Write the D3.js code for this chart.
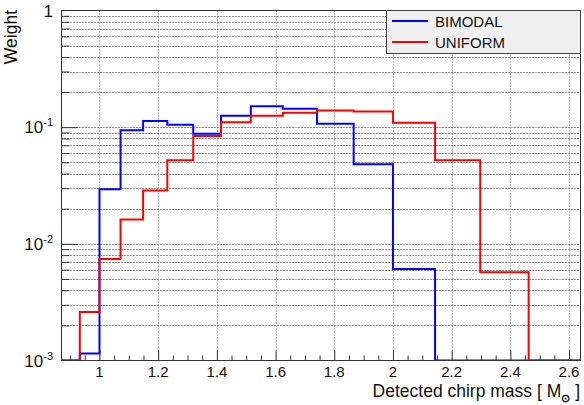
<!DOCTYPE html>
<html>
<head>
<meta charset="utf-8">
<script src="https://cdn.jsdelivr.net/npm/d3@7"></script>
<style>
  html, body { margin: 0; padding: 0; background: #fff; }
  svg { display: block; font-family: "Liberation Sans", Arial, Helvetica, sans-serif; }
</style>
</head>
<body>
<svg id="chart" width="584" height="405"></svg>
<script>
// ---- data ----
const binEdges = [0.8706, 0.9330, 1.0, 1.0718, 1.1487, 1.2311, 1.3195, 1.4142, 1.5157,
                  1.6245, 1.7411, 1.8661, 2.0, 2.1435, 2.2974, 2.4623, 2.6390];
const bimodal = [0, 0.00115, 0.0294, 0.094, 0.113, 0.105, 0.088, 0.125, 0.151,
                 0.144, 0.107, 0.048, 0.0061, 0, 0, 0];
const uniform = [0, 0.0026, 0.0074, 0.0162, 0.0287, 0.052, 0.084, 0.110, 0.125,
                 0.133, 0.139, 0.136, 0.109, 0.052, 0.0057, 0];
const seriesNames = ["BIMODAL", "UNIFORM"];
const seriesColors = ["#0000ff", "#ff0000"];
const xTicks = [1, 1.2, 1.4, 1.6, 1.8, 2, 2.2, 2.4, 2.6];
const xTickLabels = ["1", "1.2", "1.4", "1.6", "1.8", "2", "2.2", "2.4", "2.6"];
const yTicks = [0.001, 0.01, 0.1, 1];
const yTickBase = ["10", "10", "10", "1"];
const yTickExp = ["-3", "-2", "-1", ""];
const xTitle = "Detected chirp mass [ M";
const yTitle = "Weight";

// ---- layout ----
const L = 61.5, R = 580.5, T = 10.5, B = 360.5;
const svg = d3.select("#chart");

const x = d3.scaleLinear().domain([binEdges[0], binEdges[binEdges.length - 1]]).range([L, R]);
const y = d3.scaleLog().domain([1e-3, 1]).range([B, T]);

// minor log ticks
const yMinor = [];
[1e-3, 1e-2, 1e-1].forEach(d => { for (let k = 2; k <= 9; k++) yMinor.push(k * d); });
const xMinor = d3.range(0.9, 2.64, 0.05).map(v => +v.toFixed(2)).filter(v => xTicks.indexOf(v) < 0);

// grid
const grid = svg.append("g");
grid.selectAll("line.hg").data(yMinor.concat([0.01, 0.1])).join("line")
  .attr("x1", L).attr("x2", R)
  .attr("y1", d => Math.round(y(d)) + 0.5).attr("y2", d => Math.round(y(d)) + 0.5)
  .attr("stroke", "#222").attr("stroke-dasharray", "1,2").attr("stroke-width", 1);
grid.selectAll("line.vg").data(xTicks).join("line")
  .attr("y1", T).attr("y2", B)
  .attr("x1", d => Math.round(x(d)) + 0.5).attr("x2", d => Math.round(x(d)) + 0.5)
  .attr("stroke", "#777").attr("stroke-dasharray", "1,2").attr("stroke-width", 1);

// axes ticks via d3 axes
const xAxis = d3.axisBottom(x).tickValues(xTicks).tickSize(-10).tickFormat("");
svg.append("g").attr("transform", `translate(0,${B})`).call(xAxis)
  .call(g => { g.select(".domain").remove(); g.selectAll("line").attr("stroke", "#333"); });
const xAxisMinor = d3.axisBottom(x).tickValues(xMinor).tickSize(-5).tickFormat("");
svg.append("g").attr("transform", `translate(0,${B})`).call(xAxisMinor)
  .call(g => { g.select(".domain").remove(); g.selectAll("line").attr("stroke", "#333"); });

const yAxis = d3.axisLeft(y).tickValues([0.01, 0.1]).tickSize(-16).tickFormat("");
svg.append("g").attr("transform", `translate(${L},0)`).call(yAxis)
  .call(g => { g.select(".domain").remove(); g.selectAll("line").attr("stroke", "#333"); });
const yAxisMinor = d3.axisLeft(y).tickValues(yMinor).tickSize(-8).tickFormat("");
svg.append("g").attr("transform", `translate(${L},0)`).call(yAxisMinor)
  .call(g => { g.select(".domain").remove(); g.selectAll("line").attr("stroke", "#333"); });

// histograms
svg.append("clipPath").attr("id", "clip").append("rect")
  .attr("x", L).attr("y", T - 2).attr("width", R - L).attr("height", B - T + 2);
const stepLine = d3.line()
  .x(d => x(d[0]))
  .y(d => y(Math.max(d[1], 1e-3)))
  .curve(d3.curveStepAfter);
[bimodal, uniform].forEach((vals, si) => {
  const pts = vals.map((v, i) => [binEdges[i], v]);
  pts.push([binEdges[vals.length], vals[vals.length - 1]]);
  svg.append("path").datum(pts)
    .attr("d", stepLine)
    .attr("fill", "none")
    .attr("stroke", seriesColors[si])
    .attr("stroke-width", 2)
    .attr("clip-path", "url(#clip)");
});

// frame
svg.append("rect").attr("x", L).attr("y", T).attr("width", R - L).attr("height", B - T)
  .attr("fill", "none").attr("stroke", "#333").attr("stroke-width", 1);

// x tick labels
svg.append("g").selectAll("text").data(xTicks).join("text")
  .attr("x", d => x(d)).attr("y", 376.5)
  .attr("text-anchor", "middle").attr("font-size", 15).attr("fill", "#111")
  .text((d, i) => xTickLabels[i]);

// y tick labels
const yl = svg.append("g").selectAll("text").data(yTicks).join("text")
  .attr("x", 53).attr("y", d => y(d) + 6)
  .attr("text-anchor", "end").attr("font-size", 17).attr("fill", "#111");
yl.append("tspan").text((d, i) => yTickBase[i]);
yl.append("tspan").attr("dy", -7).attr("font-size", 11).text((d, i) => yTickExp[i]);

// axis titles
const xt = svg.append("text").attr("x", 580).attr("y", 396.5)
  .attr("text-anchor", "end").attr("font-size", 17.5).attr("fill", "#111");
xt.append("tspan").text(xTitle);
xt.append("tspan").attr("dy", 5).attr("font-size", 11).attr("font-weight", "bold").text("\u2299");
xt.append("tspan").attr("dy", -5).text(" ]");

svg.append("text").attr("transform", "translate(17,10) rotate(-90)")
  .attr("text-anchor", "end").attr("font-size", 17.5).attr("fill", "#111")
  .text(yTitle);

// legend
const lg = svg.append("g");
lg.append("rect").attr("x", 386.5).attr("y", 10.5).attr("width", 194).attr("height", 43)
  .attr("fill", "#f0f0f0").attr("stroke", "#444").attr("stroke-width", 1);
seriesNames.forEach((n, i) => {
  const cy = 21 + i * 21;
  lg.append("line").attr("x1", 392).attr("x2", 428).attr("y1", cy).attr("y2", cy)
    .attr("stroke", seriesColors[i]).attr("stroke-width", 2);
  lg.append("text").attr("x", 435).attr("y", cy + 5.5).attr("font-size", 15).attr("fill", "#111").text(n);
});
</script>
</body>
</html>
